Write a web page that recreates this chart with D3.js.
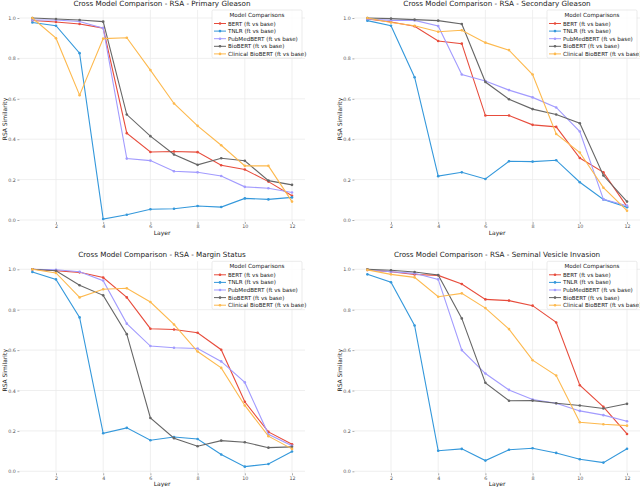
<!DOCTYPE html>
<html>
<head>
<meta charset="utf-8">
<script src="https://cdn.jsdelivr.net/npm/d3@7"></script>
<style>
  body { margin: 0; background: #fff; }
  svg { display: block; font-family: "DejaVu Sans", sans-serif; }
</style>
</head>
<body>
<div id="grafico"></div>
<script>
// Layers and tick labels
const layers = [1, 2, 3, 4, 5, 6, 7, 8, 9, 10, 11, 12];
const xTicks = [2, 4, 6, 8, 10, 12];
const yTicks = [0.0, 0.2, 0.4, 0.6, 0.8, 1.0];

const models = [
  'BERT (ft vs base)',
  'TNLR (ft vs base)',
  'PubMedBERT (ft vs base)',
  'BioBERT (ft vs base)',
  'Clinical BioBERT (ft vs base)'
];
const colors = ['#e74c3c', '#3498db', '#a29bfe', '#666666', '#fdb94e'];

const titles = [
  'Cross Model Comparison - RSA - Primary Gleason',
  'Cross Model Comparison - RSA - Secondary Gleason',
  'Cross Model Comparison - RSA - Margin Status',
  'Cross Model Comparison - RSA - Seminal Vesicle Invasion'
];

// Primary Gleason
const primaryBert     = [0.988, 0.98, 0.97, 0.95, 0.43, 0.337, 0.339, 0.336, 0.271, 0.25, 0.19, 0.12];
const primaryTnlr     = [0.978, 0.962, 0.826, 0.005, 0.026, 0.053, 0.056, 0.069, 0.064, 0.107, 0.102, 0.112];
const primaryPubmed   = [0.99, 0.99, 0.983, 0.95, 0.304, 0.294, 0.241, 0.236, 0.218, 0.164, 0.157, 0.136];
const primaryBiobert  = [1.0, 0.995, 0.99, 0.982, 0.522, 0.415, 0.324, 0.273, 0.306, 0.293, 0.195, 0.174];
const primaryClinical = [1.0, 0.90, 0.618, 0.898, 0.902, 0.742, 0.577, 0.466, 0.37, 0.268, 0.268, 0.091];

// Secondary Gleason
const secondaryBert     = [0.995, 0.98, 0.959, 0.886, 0.873, 0.517, 0.517, 0.471, 0.461, 0.307, 0.236, 0.066];
const secondaryTnlr     = [0.987, 0.962, 0.707, 0.217, 0.236, 0.203, 0.291, 0.289, 0.296, 0.187, 0.102, 0.063];
const secondaryPubmed   = [0.995, 0.988, 0.988, 0.96, 0.72, 0.688, 0.643, 0.607, 0.557, 0.438, 0.102, 0.071];
const secondaryBiobert  = [1.0, 0.997, 0.992, 0.987, 0.97, 0.683, 0.598, 0.549, 0.522, 0.479, 0.22, 0.091];
const secondaryClinical = [1.0, 0.978, 0.962, 0.932, 0.939, 0.878, 0.841, 0.72, 0.426, 0.334, 0.16, 0.046];

// Margin Status
const marginBert     = [1.0, 0.993, 0.985, 0.959, 0.861, 0.706, 0.702, 0.686, 0.602, 0.344, 0.195, 0.134];
const marginTnlr     = [0.987, 0.95, 0.762, 0.188, 0.215, 0.154, 0.17, 0.16, 0.083, 0.023, 0.036, 0.098];
const marginPubmed   = [1.0, 0.998, 0.988, 0.944, 0.731, 0.62, 0.612, 0.608, 0.544, 0.44, 0.183, 0.126];
const marginBiobert  = [1.0, 0.993, 0.921, 0.871, 0.679, 0.264, 0.164, 0.124, 0.152, 0.144, 0.117, 0.121];
const marginClinical = [1.0, 0.982, 0.861, 0.901, 0.906, 0.838, 0.727, 0.593, 0.512, 0.326, 0.174, 0.111];

// Seminal Vesicle Invasion
const seminalBert     = [0.997, 0.988, 0.974, 0.97, 0.927, 0.851, 0.845, 0.82, 0.737, 0.426, 0.319, 0.185];
const seminalTnlr     = [0.975, 0.936, 0.722, 0.102, 0.111, 0.053, 0.107, 0.114, 0.091, 0.06, 0.043, 0.112];
const seminalPubmed   = [0.997, 0.988, 0.98, 0.95, 0.6, 0.484, 0.403, 0.355, 0.337, 0.299, 0.278, 0.248];
const seminalBiobert  = [1.0, 0.995, 0.987, 0.972, 0.757, 0.438, 0.349, 0.35, 0.337, 0.326, 0.311, 0.334];
const seminalClinical = [0.997, 0.975, 0.96, 0.864, 0.881, 0.808, 0.704, 0.55, 0.474, 0.243, 0.233, 0.226];

const paineis = [
  [primaryBert, primaryTnlr, primaryPubmed, primaryBiobert, primaryClinical],
  [secondaryBert, secondaryTnlr, secondaryPubmed, secondaryBiobert, secondaryClinical],
  [marginBert, marginTnlr, marginPubmed, marginBiobert, marginClinical],
  [seminalBert, seminalTnlr, seminalPubmed, seminalBiobert, seminalClinical]
];

const largura = 640, altura = 487;
const svg = d3.select('#grafico').append('svg')
  .attr('width', largura).attr('height', altura);

// posição de cada painel
const offsets = [[0, 0], [335, 0], [0, 251.3], [335, 251.3]];

paineis.forEach((series, i) => {
  const [ox, oy] = offsets[i];
  const g = svg.append('g').attr('transform', `translate(${ox},${oy})`);

  const x = d3.scaleLinear().domain([0.45, 12.55]).range([19.4, 305]);
  const y = d3.scaleLinear().domain([0, 1]).range([220, 18]);
  const yTop = y(1.04), yBottom = y(-0.01);

  // grade
  g.append('g').selectAll('line').data(yTicks).join('line')
    .attr('x1', 19.4).attr('x2', 305)
    .attr('y1', d => y(d)).attr('y2', d => y(d))
    .attr('stroke', '#ebebeb').attr('stroke-width', 0.8);
  g.append('g').selectAll('line').data(xTicks).join('line')
    .attr('x1', d => x(d)).attr('x2', d => x(d))
    .attr('y1', yTop).attr('y2', yBottom)
    .attr('stroke', '#ebebeb').attr('stroke-width', 0.8);

  // eixos
  const eixoX = g.append('g')
    .attr('transform', `translate(0,${yBottom})`)
    .call(d3.axisBottom(x).tickValues(xTicks).tickSize(2).tickPadding(1).tickFormat(d3.format('d')));
  const eixoY = g.append('g')
    .attr('transform', 'translate(19.4,0)')
    .call(d3.axisLeft(y).tickValues(yTicks).tickSize(2).tickPadding(1.5).tickFormat(d3.format('.1f')));
  [eixoX, eixoY].forEach(e => {
    e.select('.domain').remove();
    e.selectAll('line').attr('stroke', '#555').attr('stroke-width', 0.5);
    e.selectAll('text').attr('fill', '#555').style('font-size', '4.8px')
      .style('font-family', '"DejaVu Sans", sans-serif');
  });

  // linhas
  const linha = d3.line().x((d, j) => x(layers[j])).y(d => y(d));
  series.forEach((vals, k) => {
    g.append('path').datum(vals)
      .attr('fill', 'none').attr('stroke', colors[k])
      .attr('stroke-width', 1.1).attr('d', linha);
    g.append('g').selectAll('circle').data(vals).join('circle')
      .attr('cx', (d, j) => x(layers[j])).attr('cy', d => y(d))
      .attr('r', 1.3).attr('fill', colors[k]);
  });

  // títulos
  g.append('text')
    .attr('x', 162).attr('y', 5.5)
    .attr('text-anchor', 'middle').style('font-size', '7.2px').attr('fill', '#222')
    .text(titles[i]);
  g.append('text')
    .attr('x', 162).attr('y', 235)
    .attr('text-anchor', 'middle').style('font-size', '6px').attr('fill', '#222')
    .text('Layer');
  g.append('text')
    .attr('transform', `translate(7,${y(0.5)}) rotate(-90)`)
    .attr('text-anchor', 'middle').style('font-size', '6px').attr('fill', '#222')
    .text('RSA Similarity');

  // legenda
  const lg = g.append('g').attr('transform', 'translate(212,10)');
  lg.append('rect').attr('width', 90).attr('height', 48)
    .attr('fill', 'white').attr('fill-opacity', 0.85)
    .attr('stroke', '#dddddd').attr('stroke-width', 0.6).attr('rx', 1.5);
  lg.append('text').attr('x', 45).attr('y', 7)
    .attr('text-anchor', 'middle').style('font-size', '5.6px').attr('fill', '#222')
    .text('Model Comparisons');
  models.forEach((m, k) => {
    const ly = 13.5 + k * 7.6;
    lg.append('line').attr('x1', 2).attr('x2', 14).attr('y1', ly).attr('y2', ly)
      .attr('stroke', colors[k]).attr('stroke-width', 1);
    lg.append('circle').attr('cx', 8).attr('cy', ly).attr('r', 1.3).attr('fill', colors[k]);
    lg.append('text').attr('x', 16).attr('y', ly + 2)
      .style('font-size', '5.6px').attr('fill', '#222').text(m);
  });
});
</script>
</body>
</html>
